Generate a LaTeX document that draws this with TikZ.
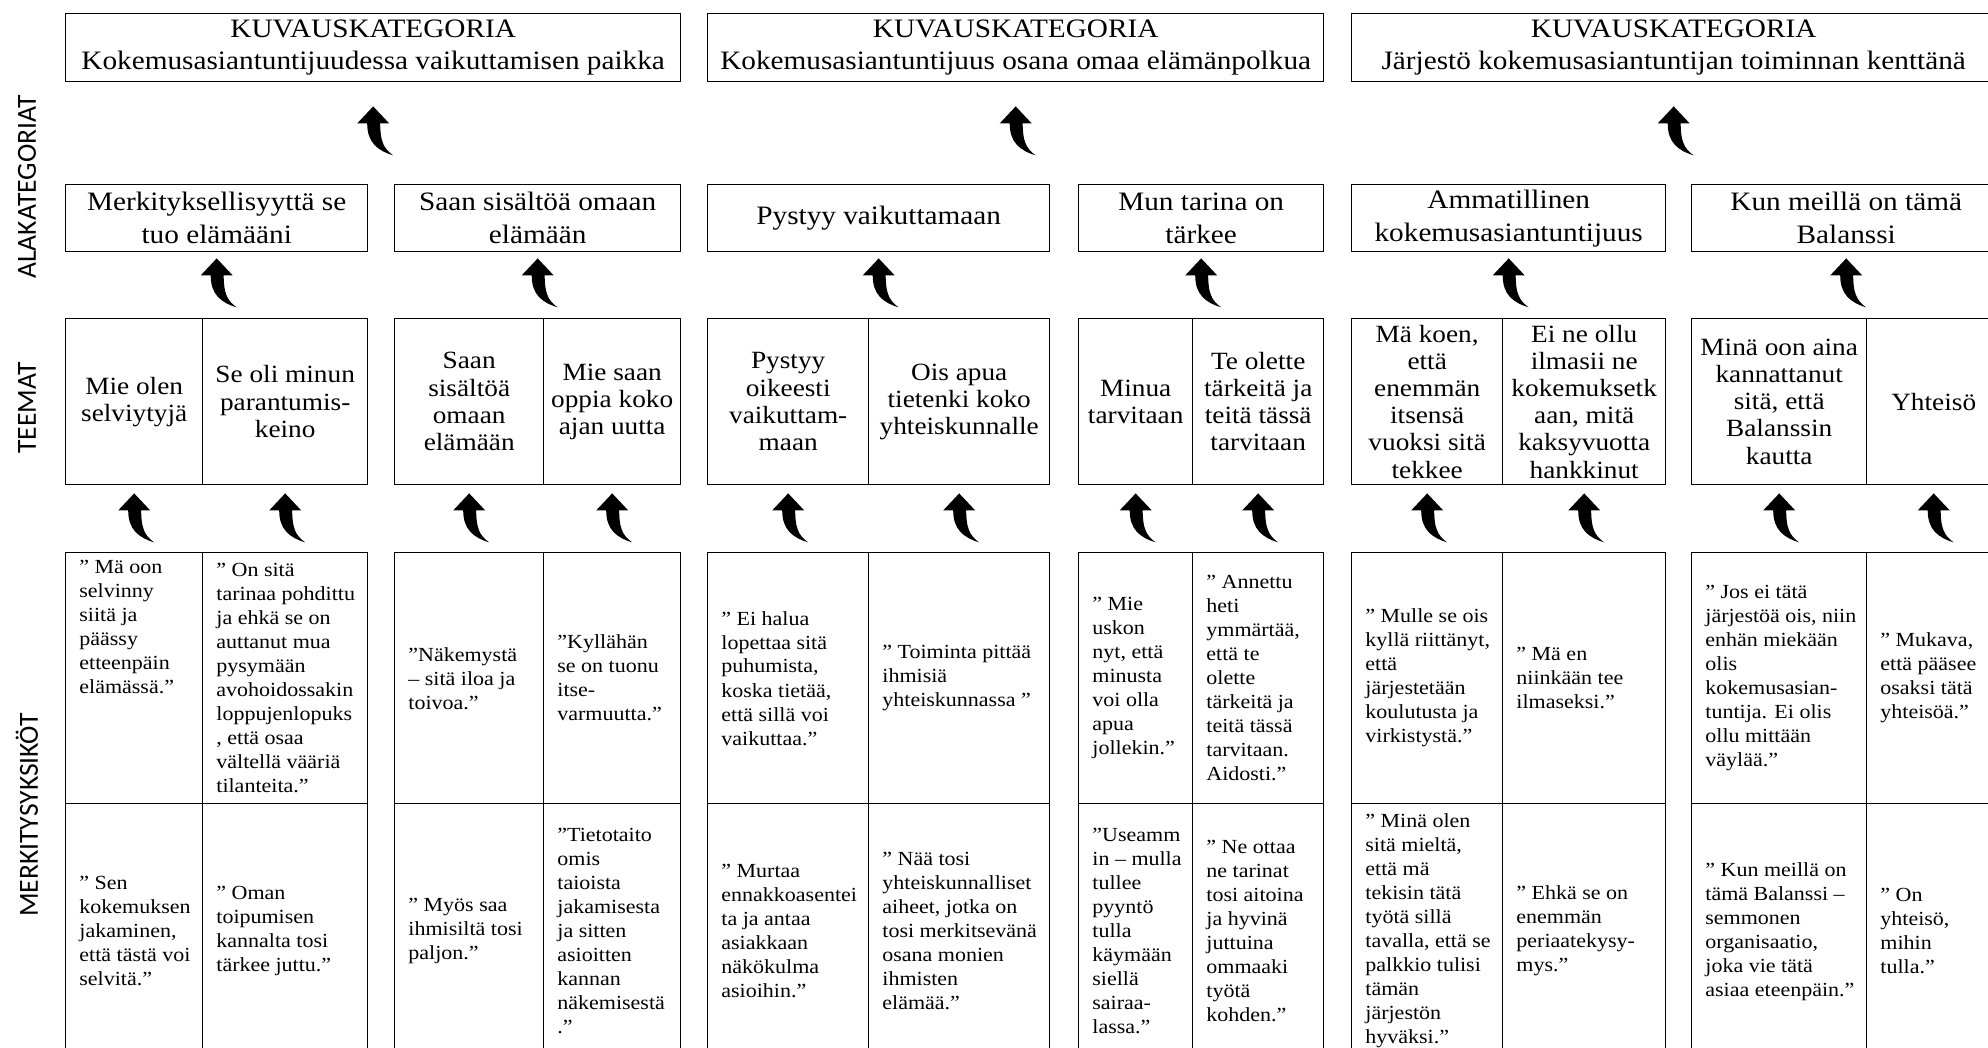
\documentclass[tikz,border=0pt]{standalone}
\usepackage{fontspec}
\setmainfont[FakeStretch=1.1]{Liberation Serif}
\newfontfamily\sidefont{Carlito}
\usetikzlibrary{calc}

\begin{document}
\begin{tikzpicture}[x=0.5pt, y=-0.5pt,
    block_top/.style ={rectangle, draw=black, line width=0.7pt, anchor=north west,
      inner sep=0pt, align=center, minimum height=34pt,
      font=\fontsize{13.3}{16}\selectfont},
    block_sub/.style ={rectangle, draw=black, line width=0.7pt, anchor=north west,
      inner sep=0pt, align=center, minimum height=33.5pt,
      font=\fontsize{13.3}{16.5}\selectfont},
    block_theme/.style ={rectangle, draw=black, line width=0.7pt, anchor=north west,
      inner sep=0pt, align=center, minimum height=83pt,
      font=\fontsize{12.4}{13.6}\selectfont},
    block_cell/.style ={rectangle, draw=black, line width=0.7pt, anchor=north west,
      inner sep=0pt},
    block_quote/.style ={anchor=west, inner sep=0pt, align=left,
      font=\fontsize{10}{12}\selectfont},
    block_side/.style ={rotate=90, inner sep=0pt,
      font=\sidefont\fontsize{13.8}{16}\selectfont},
    rise_arrow/.pic ={\fill (0,0) -- (16,17) -- (7,17) .. controls (7,34) and (10,42) .. (20,49)
      .. controls (4,44) and (-6,36) .. (-6,17) -- (-16,17) -- cycle;}]
    \useasboundingbox (0,0) rectangle (1988,1048);
    % side labels
    \node[block_side] (lab_ala) at (27,187) {ALAKATEGORIAT};
    \node[block_side] (lab_teema) at (27,408) {TEEMAT};
    \node[block_side] (lab_merk) at (27,815) {MERKITYSYKSIKÖT};
    % kuvauskategoriat - row 1
    \node[block_top, minimum width=307.5pt] (k1) at (65,13) {KUVAUSKATEGORIA\\Kokemusasiantuntijuudessa vaikuttamisen paikka};
    \node[block_top, minimum width=308pt] (k2) at (707,13) {KUVAUSKATEGORIA\\Kokemusasiantuntijuus osana omaa elämänpolkua};
    \node[block_top, minimum width=322pt] (k3) at (1351,13) {KUVAUSKATEGORIA\\Järjestö kokemusasiantuntijan toiminnan kenttänä};
    % alakategoriat - row 2
    \node[block_sub, minimum width=151pt] (a1) at (65,184) {Merkityksellisyyttä se\\tuo elämääni};
    \node[block_sub, minimum width=143pt] (a2) at (394,184) {Saan sisältöä omaan\\elämään};
    \node[block_sub, minimum width=171pt] (a3) at (707,184) {Pystyy vaikuttamaan};
    \node[block_sub, minimum width=122.5pt] (a4) at (1078,184) {Mun tarina on\\tärkee};
    \node[block_sub, minimum width=157pt] (a5) at (1351,184) {Ammatillinen\\kokemusasiantuntijuus};
    \node[block_sub, minimum width=154.5pt] (a6) at (1691,184) {Kun meillä on tämä\\Balanssi};
    % teemat - row 3
    \node[block_theme, minimum width=68.5pt] (t1a) at (65,318) {Mie olen\\selviytyjä};
    \node[block_theme, minimum width=82.5pt] (t1b) at (202,318) {Se oli minun\\parantumis-\\keino};
    \node[block_theme, minimum width=74.5pt] (t2a) at (394,318) {Saan\\sisältöä\\omaan\\elämään};
    \node[block_theme, minimum width=68.5pt] (t2b) at (543,318) {Mie saan\\oppia koko\\ajan uutta};
    \node[block_theme, minimum width=80.5pt] (t3a) at (707,318) {Pystyy\\oikeesti\\vaikuttam-\\maan};
    \node[block_theme, minimum width=90.5pt] (t3b) at (868,318) {Ois apua\\tietenki koko\\yhteiskunnalle};
    \node[block_theme, minimum width=57pt] (t4a) at (1078,318) {Minua\\tarvitaan};
    \node[block_theme, minimum width=65.5pt] (t4b) at (1192,318) {Te olette\\tärkeitä ja\\teitä tässä\\tarvitaan};
    \node[block_theme, minimum width=75.5pt] (t5a) at (1351,318) {Mä koen,\\että\\enemmän\\itsensä\\vuoksi sitä\\tekkee};
    \node[block_theme, minimum width=81.5pt] (t5b) at (1502,318) {Ei ne ollu\\ilmasii ne\\kokemuksetk\\aan, mitä\\kaksyvuotta\\hankkinut};
    \node[block_theme, minimum width=87.5pt] (t6a) at (1691,318) {Minä oon aina\\kannattanut\\sitä, että\\Balanssin\\kautta};
    \node[block_theme, minimum width=67pt] (t6b) at (1866,318) {Yhteisö};
    % merkitysyksiköt - upper cells
    \node[block_cell, minimum width=68.5pt, minimum height=125.5pt] (m1a) at (65,552) {};
    \node[block_cell, minimum width=82.5pt, minimum height=125.5pt] (m1b) at (202,552) {};
    \node[block_cell, minimum width=74.5pt, minimum height=125.5pt] (m2a) at (394,552) {};
    \node[block_cell, minimum width=68.5pt, minimum height=125.5pt] (m2b) at (543,552) {};
    \node[block_cell, minimum width=80.5pt, minimum height=125.5pt] (m3a) at (707,552) {};
    \node[block_cell, minimum width=90.5pt, minimum height=125.5pt] (m3b) at (868,552) {};
    \node[block_cell, minimum width=57pt, minimum height=125.5pt] (m4a) at (1078,552) {};
    \node[block_cell, minimum width=65.5pt, minimum height=125.5pt] (m4b) at (1192,552) {};
    \node[block_cell, minimum width=75.5pt, minimum height=125.5pt] (m5a) at (1351,552) {};
    \node[block_cell, minimum width=81.5pt, minimum height=125.5pt] (m5b) at (1502,552) {};
    \node[block_cell, minimum width=87.5pt, minimum height=125.5pt] (m6a) at (1691,552) {};
    \node[block_cell, minimum width=67pt, minimum height=125.5pt] (m6b) at (1866,552) {};
    % merkitysyksiköt - lower cells
    \node[block_cell, minimum width=68.5pt, minimum height=127.5pt] (n1a) at (65,803) {};
    \node[block_cell, minimum width=82.5pt, minimum height=127.5pt] (n1b) at (202,803) {};
    \node[block_cell, minimum width=74.5pt, minimum height=127.5pt] (n2a) at (394,803) {};
    \node[block_cell, minimum width=68.5pt, minimum height=127.5pt] (n2b) at (543,803) {};
    \node[block_cell, minimum width=80.5pt, minimum height=127.5pt] (n3a) at (707,803) {};
    \node[block_cell, minimum width=90.5pt, minimum height=127.5pt] (n3b) at (868,803) {};
    \node[block_cell, minimum width=57pt, minimum height=127.5pt] (n4a) at (1078,803) {};
    \node[block_cell, minimum width=65.5pt, minimum height=127.5pt] (n4b) at (1192,803) {};
    \node[block_cell, minimum width=75.5pt, minimum height=127.5pt] (n5a) at (1351,803) {};
    \node[block_cell, minimum width=81.5pt, minimum height=127.5pt] (n5b) at (1502,803) {};
    \node[block_cell, minimum width=87.5pt, minimum height=127.5pt] (n6a) at (1691,803) {};
    \node[block_cell, minimum width=67pt, minimum height=127.5pt] (n6b) at (1866,803) {};
    % quotes, upper row
    \node[block_quote, anchor=north west] (q1a) at ($(m1a.north west)+(7pt,-4pt)$) {” Mä oon\\selvinny\\siitä ja\\päässy\\etteenpäin\\elämässä.”};
    \node[block_quote] (q1b) at ($(m1b.west)+(7pt,0)$) {” On sitä\\tarinaa pohdittu\\ja ehkä se on\\auttanut mua\\pysymään\\avohoidossakin\\loppujenlopuks\\, että osaa\\vältellä vääriä\\tilanteita.”};
    \node[block_quote] (q2a) at ($(m2a.west)+(7pt,0)$) {”Näkemystä\\– sitä iloa ja\\toivoa.”};
    \node[block_quote] (q2b) at ($(m2b.west)+(7pt,0)$) {”Kyllähän\\se on tuonu\\itse-\\varmuutta.”};
    \node[block_quote] (q3a) at ($(m3a.west)+(7pt,0)$) {” Ei halua\\lopettaa sitä\\puhumista,\\koska tietää,\\että sillä voi\\vaikuttaa.”};
    \node[block_quote] (q3b) at ($(m3b.west)+(7pt,0)$) {” Toiminta pittää\\ihmisiä\\yhteiskunnassa ”};
    \node[block_quote] (q4a) at ($(m4a.west)+(7pt,0)$) {” Mie\\uskon\\nyt, että\\minusta\\voi olla\\apua\\jollekin.”};
    \node[block_quote] (q4b) at ($(m4b.west)+(7pt,0)$) {” Annettu\\heti\\ymmärtää,\\että te\\olette\\tärkeitä ja\\teitä tässä\\tarvitaan.\\Aidosti.”};
    \node[block_quote] (q5a) at ($(m5a.west)+(7pt,0)$) {” Mulle se ois\\kyllä riittänyt,\\että\\järjestetään\\koulutusta ja\\virkistystä.”};
    \node[block_quote] (q5b) at ($(m5b.west)+(7pt,0)$) {” Mä en\\niinkään tee\\ilmaseksi.”};
    \node[block_quote] (q6a) at ($(m6a.west)+(7pt,0)$) {” Jos ei tätä\\järjestöä ois, niin\\enhän miekään\\olis\\kokemusasian-\\tuntija. Ei olis\\ollu mittään\\väylää.”};
    \node[block_quote] (q6b) at ($(m6b.west)+(7pt,0)$) {” Mukava,\\että pääsee\\osaksi tätä\\yhteisöä.”};
    % quotes, lower row
    \node[block_quote] (r1a) at ($(n1a.west)+(7pt,0)$) {” Sen\\kokemuksen\\jakaminen,\\että tästä voi\\selvitä.”};
    \node[block_quote] (r1b) at ($(n1b.west)+(7pt,0)$) {” Oman\\toipumisen\\kannalta tosi\\tärkee juttu.”};
    \node[block_quote] (r2a) at ($(n2a.west)+(7pt,0)$) {” Myös saa\\ihmisiltä tosi\\paljon.”};
    \node[block_quote] (r2b) at ($(n2b.west)+(7pt,0)$) {”Tietotaito\\omis\\taioista\\jakamisesta\\ja sitten\\asioitten\\kannan\\näkemisestä\\.”};
    \node[block_quote] (r3a) at ($(n3a.west)+(7pt,0)$) {” Murtaa\\ennakkoasentei\\ta ja antaa\\asiakkaan\\näkökulma\\asioihin.”};
    \node[block_quote] (r3b) at ($(n3b.west)+(7pt,0)$) {” Nää tosi\\yhteiskunnalliset\\aiheet, jotka on\\tosi merkitsevänä\\osana monien\\ihmisten\\elämää.”};
    \node[block_quote] (r4a) at ($(n4a.west)+(7pt,0)$) {”Useamm\\in – mulla\\tullee\\pyyntö\\tulla\\käymään\\siellä\\sairaa-\\lassa.”};
    \node[block_quote] (r4b) at ($(n4b.west)+(7pt,0)$) {” Ne ottaa\\ne tarinat\\tosi aitoina\\ja hyvinä\\juttuina\\ommaaki\\työtä\\kohden.”};
    \node[block_quote] (r5a) at ($(n5a.west)+(7pt,0)$) {” Minä olen\\sitä mieltä,\\että mä\\tekisin tätä\\työtä sillä\\tavalla, että se\\palkkio tulisi\\tämän\\järjestön\\hyväksi.”};
    \node[block_quote] (r5b) at ($(n5b.west)+(7pt,0)$) {” Ehkä se on\\enemmän\\periaatekysy-\\mys.”};
    \node[block_quote] (r6a) at ($(n6a.west)+(7pt,0)$) {” Kun meillä on\\tämä Balanssi –\\semmonen\\organisaatio,\\joka vie tätä\\asiaa eteenpäin.”};
    \node[block_quote] (r6b) at ($(n6b.west)+(7pt,0)$) {” On\\yhteisö,\\mihin\\tulla.”};
    % arrows up to the kuvauskategoriat
    \pic at ($(k1.south)+(0,24)$) {rise_arrow};
    \pic at ($(k2.south)+(0,24)$) {rise_arrow};
    \pic at ($(k3.south)+(0,24)$) {rise_arrow};
    % arrows up to the alakategoriat
    \pic at ($(a1.south)+(0,6)$) {rise_arrow};
    \pic at ($(a2.south)+(0,6)$) {rise_arrow};
    \pic at ($(a3.south)+(0,6)$) {rise_arrow};
    \pic at ($(a4.south)+(0,6)$) {rise_arrow};
    \pic at ($(a5.south)+(0,6)$) {rise_arrow};
    \pic at ($(a6.south)+(0,6)$) {rise_arrow};
    % arrows up to the teemat
    \pic at ($(t1a.south)+(0,8)$) {rise_arrow};
    \pic at ($(t1b.south)+(0,8)$) {rise_arrow};
    \pic at ($(t2a.south)+(0,8)$) {rise_arrow};
    \pic at ($(t2b.south)+(0,8)$) {rise_arrow};
    \pic at ($(t3a.south)+(0,8)$) {rise_arrow};
    \pic at ($(t3b.south)+(0,8)$) {rise_arrow};
    \pic at ($(t4a.south)+(0,8)$) {rise_arrow};
    \pic at ($(t4b.south)+(0,8)$) {rise_arrow};
    \pic at ($(t5a.south)+(0,8)$) {rise_arrow};
    \pic at ($(t5b.south)+(0,8)$) {rise_arrow};
    \pic at ($(t6a.south)+(0,8)$) {rise_arrow};
    \pic at ($(t6b.south)+(0,8)$) {rise_arrow};
\end{tikzpicture}
\end{document}
